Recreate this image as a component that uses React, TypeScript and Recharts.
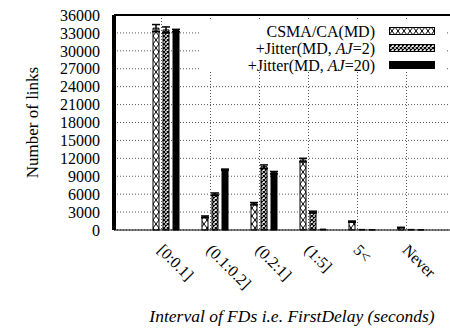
import { BarChart, Bar, XAxis, YAxis, CartesianGrid, ReferenceLine, ErrorBar } from 'recharts'

const categories = ['[0:0.1]', '(0.1:0.2]', '(0.2:1]', '(1:5]', '5<', 'Never']
const csmaLinks = [33800, 2200, 4400, 11700, 1400, 400]
const jitter2Links = [33500, 6000, 10600, 3000, 100, 100]
const jitter20Links = [33400, 10100, 9600, 150, 50, 50]
const csmaErr = [600, 150, 200, 300, 100, 50]
const jitter2Err = [500, 200, 300, 150, 0, 0]
const jitter20Err = [200, 100, 200, 0, 0, 0]
const yTicks = [0, 3000, 6000, 9000, 12000, 15000, 18000, 21000, 24000, 27000, 30000, 33000, 36000]

const FONT = '"Liberation Serif", "Times New Roman", serif'
const textStyle = { fontFamily: FONT, fontSize: 16 }
const PAD_L = 27
const PAD_R = 35
const TIC_SHIFT = -4.5 // xtics sit a bit left of each bar group centre

const data = categories.map((name, i) => ({
  name,
  csma: csmaLinks[i],
  jitter2: jitter2Links[i],
  jitter20: jitter20Links[i],
  csmaErr: csmaErr[i],
  jitter2Err: jitter2Err[i],
  jitter20Err: jitter20Err[i],
}))

// vertical grid lines at the xtic positions (band centres of the category axis, shifted)
function ticGrid({ xAxis, offset }: any) {
  const s = xAxis && xAxis.scale
  if (typeof s === 'function' && typeof s.bandwidth === 'function') {
    return categories.map(c => Math.round(s(c) + s.bandwidth() / 2 + TIC_SHIFT) + 0.5)
  }
  const left = offset ? offset.left : xAxis.x
  const width = offset ? offset.width : xAxis.width
  const band = (width - PAD_L - PAD_R) / categories.length
  return categories.map((_, i) => Math.round(left + PAD_L + (i + 0.5) * band + TIC_SHIFT) + 0.5)
}

function RotatedTick({ x, y, payload }: any) {
  return (
    <text transform={`translate(${x - 9},${y}) rotate(45)`} textAnchor="start" style={textStyle} fill="#000">
      {payload.value}
    </text>
  )
}

function YTitle({ viewBox }: any) {
  const cy = viewBox.y + viewBox.height / 2
  return (
    <text
      transform={`translate(${viewBox.x + 32},${cy}) rotate(-90)`}
      textAnchor="middle"
      dominantBaseline="central"
      style={{ fontFamily: FONT, fontSize: 17 }}
      fill="#000"
    >
      Number of links
    </text>
  )
}

const legendRows = [
  { key: 'csma', text: <>CSMA/CA(MD)</>, fill: 'url(#xhatch)' },
  { key: 'j2', text: <>+Jitter(MD, <i>AJ</i>=2)</>, fill: 'url(#dense)' },
  { key: 'j20', text: <>+Jitter(MD, <i>AJ</i>=20)</>, fill: '#000' },
]

// opaque key box, it hides the grid behind it like gnuplot's "set key opaque"
function KeyBox() {
  return (
    <div style={{ position: 'absolute', left: 200, top: 19, width: 245, height: 52, paddingTop: 4, boxSizing: 'border-box', background: '#fff', ...textStyle }}>
      {legendRows.map(r => (
        <div key={r.key} style={{ position: 'relative', height: 17, lineHeight: '17px' }}>
          <span style={{ position: 'absolute', right: 70, top: 0, whiteSpace: 'nowrap' }}>{r.text}</span>
          <svg width={46} height={8} style={{ position: 'absolute', left: 189, top: 4 }}>
            <rect x={0.5} y={0.5} width={45} height={7} fill={r.fill} stroke="#000" />
          </svg>
        </div>
      ))}
    </div>
  )
}

export default function App() {
  return (
    <div style={{ position: 'absolute', left: 0, top: 0, width: 450, height: 329, overflow: 'hidden', background: '#fff', fontFamily: FONT }}>
      <BarChart
        width={470}
        height={329}
        data={data}
        margin={{ top: 15, right: 0, bottom: 0, left: 0 }}
        barSize={6}
        barGap={4}
        style={{ fontFamily: FONT }}
      >
        <defs>
          <pattern id="xhatch" patternUnits="userSpaceOnUse" width="6" height="8">
            <rect width="6" height="8" fill="#fff" />
            <path d="M0,0 L6,8 M6,0 L0,8" stroke="#000" strokeWidth="1" />
          </pattern>
          <pattern id="dense" patternUnits="userSpaceOnUse" width="4" height="4">
            <rect width="4" height="4" fill="#fff" />
            <path d="M0,0 L4,4 M4,0 L0,4" stroke="#000" strokeWidth="1.2" />
          </pattern>
        </defs>
        <CartesianGrid stroke="#555" strokeDasharray="1 2" verticalCoordinatesGenerator={ticGrid} />
        <XAxis
          dataKey="name"
          height={99}
          padding={{ left: PAD_L, right: PAD_R }}
          interval={0}
          tickLine={false}
          tickSize={0}
          tickMargin={21}
          tick={<RotatedTick />}
          axisLine={{ stroke: '#000' }}
          label={{
            value: 'Interval of FDs i.e. FirstDelay (seconds)',
            position: 'insideBottom',
            offset: 7,
            fontSize: 17.5,
            fill: '#000',
            style: { fontFamily: FONT, fontStyle: 'italic' },
          }}
        />
        <YAxis
          width={114}
          domain={[0, 36000]}
          ticks={yTicks}
          interval={0}
          tickLine={false}
          tickSize={0}
          tickMargin={14}
          axisLine={{ stroke: '#000', strokeWidth: 4 }}
          tick={{ fontSize: 16, fill: '#000', style: { fontFamily: FONT } }}
          label={<YTitle />}
        />
        <ReferenceLine y={36000} stroke="#000" strokeWidth={2} />
        <Bar dataKey="csma" fill="url(#xhatch)" stroke="#000" strokeWidth={1} isAnimationActive={false}>
          <ErrorBar dataKey="csmaErr" width={4} stroke="#000" />
        </Bar>
        <Bar dataKey="jitter2" fill="url(#dense)" stroke="#000" strokeWidth={1} isAnimationActive={false}>
          <ErrorBar dataKey="jitter2Err" width={4} stroke="#000" />
        </Bar>
        <Bar dataKey="jitter20" fill="#000" stroke="#000" strokeWidth={1} isAnimationActive={false}>
          <ErrorBar dataKey="jitter20Err" width={4} stroke="#000" />
        </Bar>
      </BarChart>
      <KeyBox />
    </div>
  )
}
